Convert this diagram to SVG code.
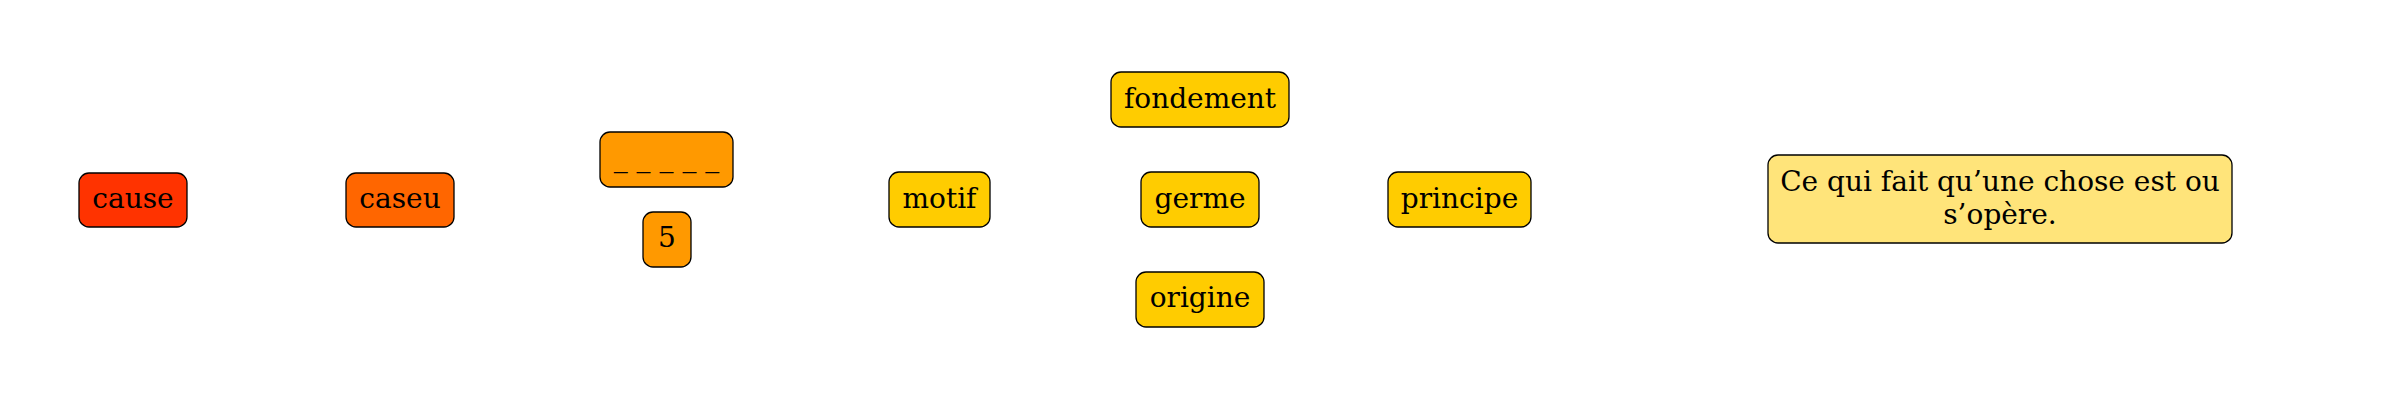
<svg xmlns="http://www.w3.org/2000/svg" width="2400" height="400" viewBox="0 0 2400 400">
<style>
rect.n{stroke:#000;stroke-width:1.3;}
text{font-family:"DejaVu Serif","Liberation Serif",serif;font-size:28px;fill:#000;text-anchor:middle;}
</style>
<rect width="2400" height="400" fill="#fff"/>
<g id="connectors"></g>
<g id="n-cause"><rect class="n" x="79" y="173" width="108" height="54" rx="10" fill="#ff3300"/><text x="133" y="208">cause</text></g>
<g id="n-caseu"><rect class="n" x="346" y="173" width="108" height="54" rx="10" fill="#ff6600"/><text x="400" y="208">caseu</text></g>
<g id="n-blank"><rect class="n" x="600" y="132" width="133" height="55" rx="10" fill="#ff9900"/><text x="666.5" y="167">_ _ _ _ _</text></g>
<g id="n-5"><rect class="n" x="643" y="212" width="48" height="55" rx="10" fill="#ff9900"/><text x="667" y="247">5</text></g>
<g id="n-motif"><rect class="n" x="889" y="172" width="101" height="55" rx="10" fill="#ffcc00"/><text x="939.5" y="208">motif</text></g>
<g id="n-fondement"><rect class="n" x="1111" y="72" width="178" height="55" rx="10" fill="#ffcc00"/><text x="1200" y="108">fondement</text></g>
<g id="n-germe"><rect class="n" x="1141" y="172" width="118" height="55" rx="10" fill="#ffcc00"/><text x="1200" y="208">germe</text></g>
<g id="n-origine"><rect class="n" x="1136" y="272" width="128" height="55" rx="10" fill="#ffcc00"/><text x="1200" y="307">origine</text></g>
<g id="n-principe"><rect class="n" x="1388" y="172" width="143" height="55" rx="10" fill="#ffcc00"/><text x="1459.5" y="208">principe</text></g>
<g id="n-def"><rect class="n" x="1768" y="155" width="464" height="88" rx="10" fill="#ffe47a"/><text x="2000" y="191">Ce qui fait qu’une chose est ou</text><text x="2000" y="224">s’opère.</text></g>
</svg>
